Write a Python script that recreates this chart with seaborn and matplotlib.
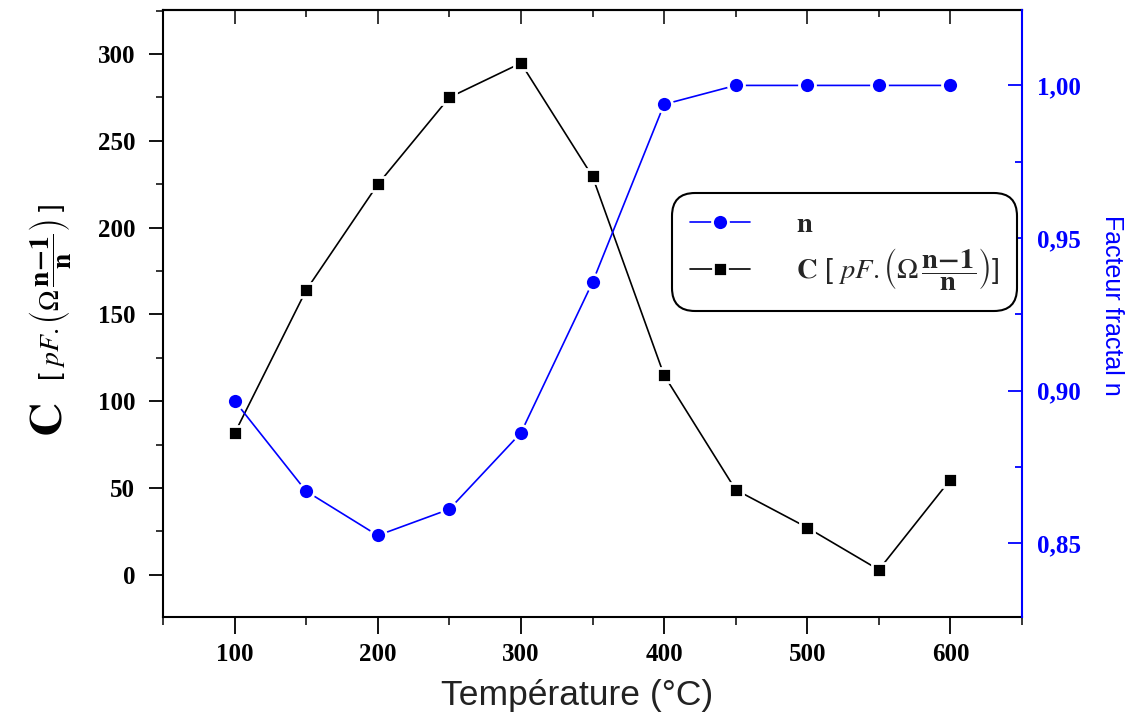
import matplotlib
matplotlib.use("Agg")
import matplotlib.pyplot as plt
import seaborn as sns
import pandas as pd
from matplotlib.ticker import MultipleLocator, FuncFormatter
from matplotlib.font_manager import FontProperties

# ---- data ----
temperature = [100, 150, 200, 250, 300, 350, 400, 450, 500, 550, 600]
capacitance = [81.5, 164, 224.9, 275, 294.8, 229.5, 115, 49, 27.2, 2.9, 54.9]
fractal_n = [0.8967, 0.8671, 0.8526, 0.8612, 0.8862, 0.9355, 0.9938, 1.0, 1.0, 1.0, 1.0]

x_label = "Température (°C)"
right_label = "Facteur fractal n"
legend_n = r"$\mathbf{n}$"
legend_c = r"$\mathbf{C}$ [ $pF.\left(\Omega\,\dfrac{\mathbf{n\!-\!1}}{\mathbf{n}}\right)$]"
left_unit = r"[ $pF.\left(\Omega\,\dfrac{\mathbf{n\!-\!1}}{\mathbf{n}}\right)$ ]"

sns.set_theme(style="ticks")
plt.rcParams["mathtext.fontset"] = "stix"
plt.rcParams["font.family"] = ["Liberation Sans", "DejaVu Sans"]

df = pd.DataFrame({"T": temperature, "C": capacitance, "n": fractal_n})

fig = plt.figure(figsize=(11.33, 7.13), dpi=100)
ax = fig.add_axes([163 / 1133, 1 - 617 / 713, (1022 - 163) / 1133, (617 - 10) / 713])
ax2 = ax.twinx()

sns.lineplot(data=df, x="T", y="C", ax=ax, color="black", lw=1.2, marker="s",
             markersize=10, markerfacecolor="black", markeredgecolor="white",
             markeredgewidth=2.0, legend=False)
sns.lineplot(data=df, x="T", y="n", ax=ax2, color="#0000ff", lw=1.2, marker="o",
             markersize=11.5, markerfacecolor="#0000ff", markeredgecolor="white",
             markeredgewidth=2.0, legend=False)

ax.set_xlim(50, 650)
ax.set_ylim(-24.3, 325.4)
ax2.set_ylim(0.8259, 1.0247)

ax.xaxis.set_major_locator(MultipleLocator(100))
ax.xaxis.set_minor_locator(MultipleLocator(50))
ax.yaxis.set_major_locator(MultipleLocator(50))
ax.yaxis.set_minor_locator(MultipleLocator(25))
ax2.yaxis.set_major_locator(MultipleLocator(0.05))
ax2.yaxis.set_minor_locator(MultipleLocator(0.025))
ax2.yaxis.set_major_formatter(FuncFormatter(lambda v, p: f"{v:.2f}".replace(".", ",")))

tick_fp = FontProperties(family="Liberation Serif", weight="bold", size=18)
for lab in ax.get_xticklabels() + ax.get_yticklabels():
    lab.set_fontproperties(tick_fp)
for lab in ax2.get_yticklabels():
    lab.set_fontproperties(tick_fp)
    lab.set_color("#0000ff")

ax.tick_params(axis="x", which="major", direction="out", length=12, width=1.3, colors="black", pad=7)
ax.tick_params(axis="x", which="minor", direction="out", length=6, width=1.3)
ax.tick_params(axis="y", which="major", direction="out", length=10, width=1.3, colors="black", pad=10)
ax.tick_params(axis="y", which="minor", direction="out", length=5, width=1.3)
ax2.tick_params(axis="y", which="major", direction="in", length=10, width=1.3, colors="#0000ff", pad=11)
ax2.tick_params(axis="y", which="minor", direction="in", length=5, width=1.3, colors="#0000ff")

for s in ["left", "bottom", "top"]:
    ax.spines[s].set_linewidth(1.5)
    ax.spines[s].set_color("black")
ax.spines["right"].set_visible(False)
for s in ["left", "bottom", "top"]:
    ax2.spines[s].set_visible(False)
ax2.spines["right"].set_visible(True)
ax2.spines["right"].set_color("#0000ff")
ax2.spines["right"].set_linewidth(1.5)

# top ticks pointing inward
top = ax.secondary_xaxis("top")
top.xaxis.set_major_locator(MultipleLocator(100))
top.xaxis.set_minor_locator(MultipleLocator(50))
top.tick_params(which="major", direction="in", length=10, width=1.3, labeltop=False)
top.tick_params(which="minor", direction="in", length=5, width=1.3)
top.spines["top"].set_linewidth(1.5)

ax.set_xlabel(x_label, fontsize=25.5, color="#222222", va="baseline")
ax.xaxis.set_label_coords(0.482, -0.145)
ax.set_ylabel("")
ax2.set_ylabel(right_label, fontsize=18, color="#0000ff", rotation=270, va="center", ha="center")
ax2.yaxis.set_label_coords(1.105, 0.514)

# left label: big C and bracketed unit
ax.text(-0.132, 0.325, r"$\mathbf{C}$", rotation=90, fontsize=34, transform=ax.transAxes,
        ha="center", va="center", color="black")
ax.text(-0.132, 0.535, left_unit, rotation=90,
        fontsize=20, transform=ax.transAxes, ha="center", va="center", color="black")

h1 = ax.get_lines()[0]
h2 = ax2.get_lines()[0]
leg = ax2.legend([h2, h1], [legend_n, legend_c], loc="upper left",
                 bbox_to_anchor=(0.599, 0.689), borderaxespad=0, fontsize=20.5,
                 frameon=True, fancybox=True, edgecolor="black", framealpha=1,
                 handlelength=2.1, handletextpad=1.6, labelspacing=0.3, borderpad=0.45)
leg.get_frame().set_linewidth(1.5)
leg.get_frame().set_boxstyle("round,pad=0.2,rounding_size=0.8")

fig.savefig("out.png", dpi=100)
